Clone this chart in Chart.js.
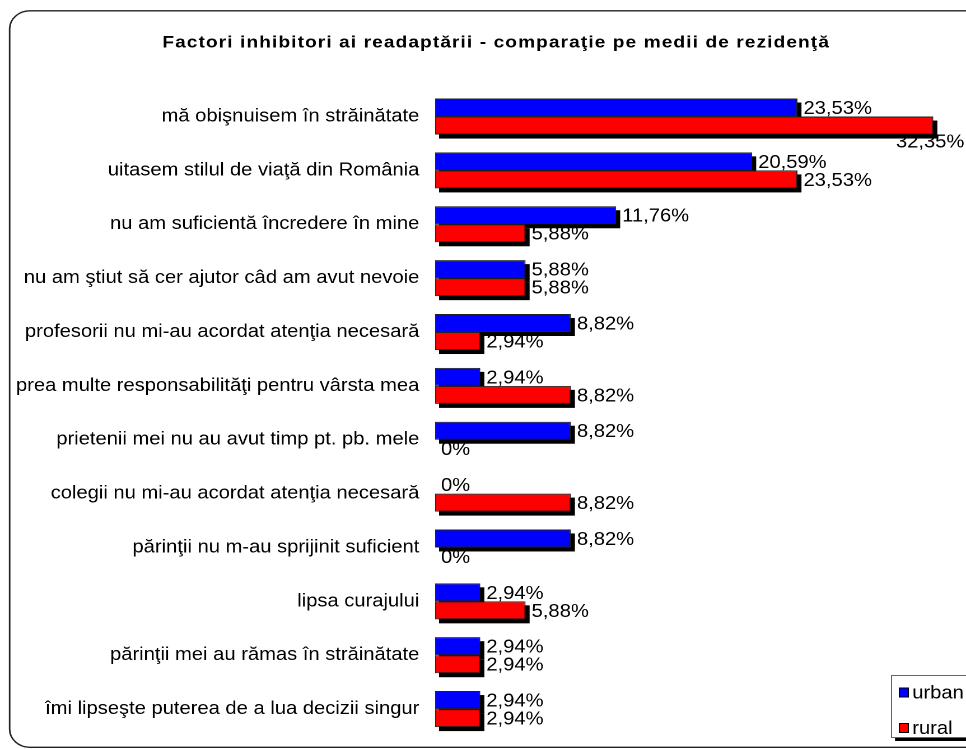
<!DOCTYPE html>
<html>
<head>
<meta charset="utf-8">
<script src="https://cdn.jsdelivr.net/npm/chart.js@4.4.1/dist/chart.umd.min.js"></script>
<style>
  html, body { margin: 0; padding: 0; background: #fff; overflow: hidden; }
  #wrap { width: 863px; height: 749px; transform: scaleX(1.12); transform-origin: 0 0; }
</style>
</head>
<body>
<div id="wrap"><canvas id="c" width="863" height="749"></canvas></div>
<script>
const TITLE = 'Factori inhibitori ai readaptării - comparaţie pe medii de rezidenţă';
const categories = [
  'mă obişnuisem în străinătate',
  'uitasem stilul de viaţă din România',
  'nu am suficientă încredere în mine',
  'nu am ştiut să cer ajutor câd am avut nevoie',
  'profesorii nu mi-au acordat atenţia necesară',
  'prea multe responsabilităţi pentru vârsta mea',
  'prietenii mei nu au avut timp pt. pb. mele',
  'colegii nu mi-au acordat atenţia necesară',
  'părinţii nu m-au sprijinit suficient',
  'lipsa curajului',
  'părinţii mei au rămas în străinătate',
  'îmi lipseşte puterea de a lua decizii singur'
];
const seriesNames = ['urban', 'rural'];
const urbanValues = [23.53, 20.59, 11.76, 5.88, 8.82, 2.94, 8.82, 0, 8.82, 2.94, 2.94, 2.94];
const ruralValues = [32.35, 23.53, 5.88, 5.88, 2.94, 8.82, 0, 8.82, 0, 5.88, 2.94, 2.94];
const seriesColors = ['#0000ff', '#ff0000'];

const FONT = "'Liberation Sans', Arial, sans-serif";

function fmt(v) {
  return (v === 0 ? '0' : v.toFixed(2).replace('.', ',')) + '%';
}

const framePlugin = {
  id: 'frame',
  beforeDraw(chart) {
    const ctx = chart.ctx;
    ctx.save();
    ctx.fillStyle = '#fff';
    ctx.fillRect(0, 0, chart.width, chart.height);
    ctx.strokeStyle = '#222';
    ctx.lineWidth = 1.4;
    ctx.beginPath();
    ctx.roundRect(8.6, 10.8, 880, 736.5, 18);
    ctx.stroke();
    ctx.restore();
  }
};

const shadowPlugin = {
  id: 'barShadow',
  beforeDatasetsDraw(chart) {
    const ctx = chart.ctx;
    ctx.save();
    ctx.fillStyle = '#000';
    chart.data.datasets.forEach((ds, i) => {
      const meta = chart.getDatasetMeta(i);
      meta.data.forEach(el => {
        const x0 = Math.min(el.x, el.base), x1 = Math.max(el.x, el.base);
        if (x1 - x0 < 0.5) return;
        ctx.fillRect(x0 + 3.6, el.y - el.height / 2 + 4, x1 - x0, el.height);
      });
    });
    ctx.restore();
  }
};

const labelPlugin = {
  id: 'valueLabels',
  afterDatasetsDraw(chart) {
    const ctx = chart.ctx;
    ctx.save();
    ctx.font = '18px ' + FONT;
    ctx.fillStyle = '#000';
    ctx.textBaseline = 'middle';
    chart.data.datasets.forEach((ds, i) => {
      const meta = chart.getDatasetMeta(i);
      meta.data.forEach((el, j) => {
        const txt = fmt(ds.data[j]);
        const w = ctx.measureText(txt).width;
        let x = Math.max(el.x, el.base) + 5.4;
        let y = el.y + 1.5;
        if (x + w > chart.width - 2) {
          x = chart.width - 2 - w;
          y = el.y + el.height * 0.85 + 1.5;
        }
        ctx.textAlign = 'left';
        ctx.fillText(txt, x, y);
      });
    });
    ctx.restore();
  }
};

const legendPlugin = {
  id: 'boxLegend',
  afterDraw(chart) {
    const ctx = chart.ctx;
    ctx.save();
    const bx = 795.5, by = 675, bw = 90, bh = 62;
    ctx.fillStyle = '#000';
    ctx.fillRect(bx + 3.6, by + 4, bw, bh);
    ctx.fillStyle = '#fff';
    ctx.fillRect(bx, by, bw, bh);
    ctx.strokeStyle = '#666';
    ctx.lineWidth = 1;
    ctx.strokeRect(bx + 0.5, by + 0.5, bw, bh);
    ctx.font = '18px ' + FONT;
    ctx.textBaseline = 'middle';
    ctx.textAlign = 'left';
    chart.data.datasets.forEach((ds, i) => {
      const cy = 692.5 + i * 35.5;
      ctx.fillStyle = ds.backgroundColor;
      ctx.fillRect(803, cy - 4.5, 8, 9);
      ctx.strokeStyle = '#000';
      ctx.lineWidth = 1;
      ctx.strokeRect(803, cy - 4.5, 8, 9);
      ctx.fillStyle = '#000';
      ctx.fillText(ds.label, 814.5, cy + 1);
    });
    ctx.restore();
  }
};

const chart = new Chart(document.getElementById('c'), {
  type: 'bar',
  data: {
    labels: categories,
    datasets: [
      { label: seriesNames[0], data: urbanValues, backgroundColor: seriesColors[0], borderColor: '#222', borderWidth: 1, borderSkipped: false },
      { label: seriesNames[1], data: ruralValues, backgroundColor: seriesColors[1], borderColor: '#222', borderWidth: 1, borderSkipped: false }
    ]
  },
  options: {
    indexAxis: 'y',
    responsive: false,
    devicePixelRatio: 2,
    animation: false,
    events: [],
    layout: { padding: { left: 0, right: 7, top: 0, bottom: 13 } },
    datasets: { bar: { categoryPercentage: 0.669, barPercentage: 1 } },
    plugins: {
      legend: { display: false },
      tooltip: { enabled: false },
      title: {
        display: true,
        text: TITLE,
        color: '#000',
        font: { family: FONT, size: 17, weight: 'bold' },
        padding: { top: 32.8, bottom: 36.4 }
      }
    },
    scales: {
      x: { display: false, min: 0, max: 34 },
      y: {
        grid: { display: false, drawTicks: false },
        border: { display: false },
        ticks: { color: '#000', font: { family: FONT, size: 18 }, padding: 14, autoSkip: false },
        afterFit(scale) {
          scale.width = 388.4;
          scale.paddingTop = 0;
          scale.paddingBottom = 0;
        }
      }
    }
  },
  plugins: [framePlugin, shadowPlugin, labelPlugin, legendPlugin]
});

// Title with the slight letter spacing and centring of the original chart frame
const tb = chart.titleBlock;
if (tb) {
  const origDraw = tb.draw.bind(tb);
  tb.draw = function (area) {
    const ctx = chart.ctx;
    ctx.save();
    ctx.letterSpacing = '1px';
    ctx.translate(15, 0);
    origDraw(area);
    ctx.restore();
  };
  chart.draw();
}
</script>
</body>
</html>
